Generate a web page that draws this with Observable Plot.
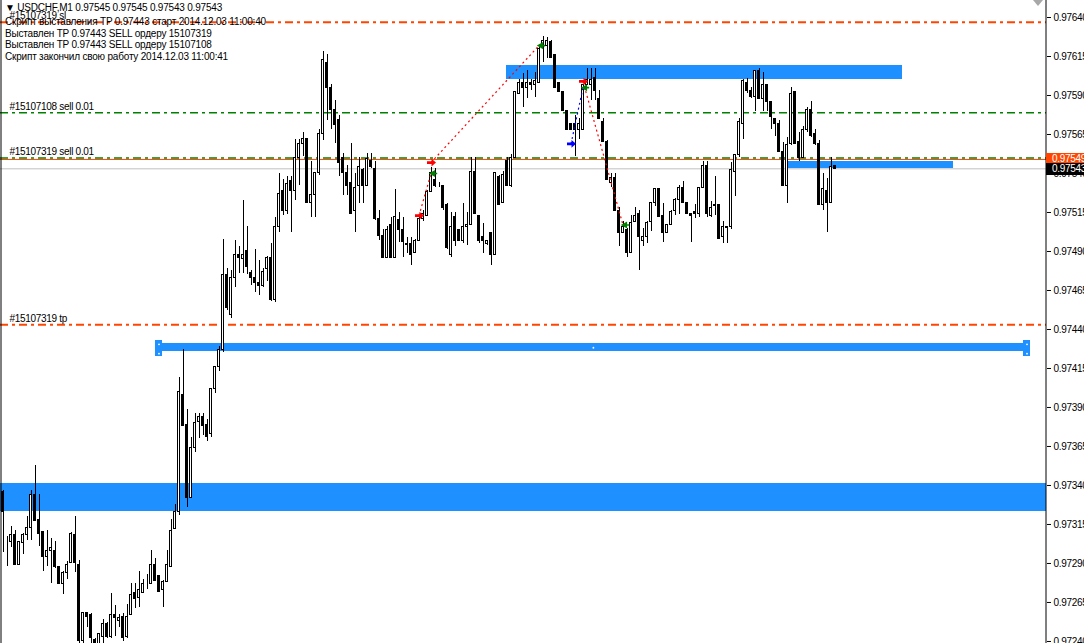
<!DOCTYPE html>
<html><head><meta charset="utf-8">
<script src="https://cdn.jsdelivr.net/npm/d3@7"></script>
<script src="https://cdn.jsdelivr.net/npm/@observablehq/plot@0.6"></script>
<style>
html,body{margin:0;padding:0;background:#fff;}
#wrap{position:relative;width:1084px;height:643px;overflow:hidden;font-family:"Liberation Sans",Arial,sans-serif;}
#wrap svg{display:block;}
.t{position:absolute;left:5px;font-size:10px;line-height:12px;letter-spacing:-0.2px;color:#000;white-space:nowrap;}
.pl{position:absolute;left:1046px;width:38px;height:12px;font-size:10px;line-height:12px;color:#fff;padding-left:6px;box-sizing:border-box;letter-spacing:-0.3px;}
.tri{position:absolute;left:1033px;top:0;width:0;height:0;border-left:5px solid transparent;border-right:5px solid transparent;border-top:6px solid #a8a8a8;}
</style></head>
<body><div id="wrap"></div>
<script>
// ---- candle data (price in points, /1e5) ----
const opens = [
97336,97304,97304,97308,97289,97303,97308,97313,97334,97318,
97310,97294,97298,97298,97288,97277,97284,97290,97308,97289,
97240,97258,97257,97241,97238,97243,97251,97243,97257,97253,
97256,97243,97257,97271,97268,97271,97278,97277,97289,97282,
97273,97278,97288,97312,97323,97398,97379,97332,97364,97381,
97384,97379,97373,97402,97416,97427,97475,97449,97473,97488,
97485,97490,97476,97473,97470,97468,97479,97486,97459,97506,
97529,97516,97535,97529,97550,97559,97562,97521,97526,97540,
97565,97611,97595,97581,97574,97550,97540,97534,97516,97532,
97542,97532,97548,97543,97511,97500,97486,97507,97486,97510,
97504,97495,97495,97489,97497,97511,97513,97528,97536,97532,
97532,97520,97488,97512,97504,97497,97506,97507,97541,97513,
97499,97495,97502,97488,97538,97521,97548,97532,97550,97591,
97598,97595,97598,97597,97598,97622,97622,97624,97616,97598,
97592,97580,97572,97572,97568,97568,97597,97597,97601,97588,
97573,97560,97534,97537,97516,97502,97504,97489,97509,97514,
97497,97499,97509,97521,97530,97513,97502,97507,97516,97523,
97531,97521,97514,97515,97514,97531,97545,97513,97520,97520,
97499,97506,97506,97541,97552,97572,97598,97593,97589,97606,
97588,97597,97586,97575,97572,97554,97532,97559,97592,97560,
97550,97568,97581,97565,97559,97520,97529,97521,97545];
const highs = [
97337,97307,97314,97311,97304,97309,97320,97337,97353,97334,
97310,97311,97306,97304,97288,97285,97291,97310,97320,97292,
97258,97258,97258,97242,97245,97254,97252,97271,97263,97257,
97258,97264,97277,97277,97285,97280,97283,97298,97293,97282,
97279,97298,97318,97328,97409,97427,97389,97371,97386,97386,
97386,97382,97402,97416,97429,97498,97479,97478,97497,97493,
97523,97506,97478,97491,97484,97479,97487,97495,97512,97540,
97536,97538,97538,97562,97562,97566,97562,97548,97540,97568,
97618,97616,97597,97587,97577,97553,97545,97559,97540,97550,
97543,97553,97553,97548,97516,97504,97506,97512,97530,97515,
97512,97499,97499,97498,97513,97516,97529,97544,97543,97534,
97532,97521,97515,97515,97504,97521,97515,97550,97550,97513,
97508,97497,97502,97540,97539,97541,97550,97552,97592,97600,
97604,97606,97600,97605,97622,97628,97627,97625,97616,97598,
97592,97580,97572,97577,97575,97597,97607,97607,97607,97593,
97575,97561,97540,97540,97518,97509,97505,97513,97518,97516,
97505,97509,97521,97530,97530,97521,97507,97516,97524,97532,
97535,97521,97514,97520,97531,97548,97548,97522,97538,97520,
97509,97506,97547,97552,97575,97600,97601,97595,97606,97607,
97605,97597,97586,97575,97574,97560,97563,97595,97592,97566,
97570,97582,97586,97568,97561,97540,97537,97550,97545];
const lows = [
97297,97288,97300,97289,97289,97296,97305,97305,97317,97301,
97285,97288,97277,97287,97277,97270,97280,97290,97284,97236,
97236,97249,97236,97236,97236,97237,97242,97242,97243,97249,
97240,97242,97257,97261,97262,97271,97273,97277,97279,97272,
97262,97278,97288,97312,97321,97378,97326,97332,97361,97370,
97372,97368,97371,97399,97413,97425,97452,97447,97467,97476,
97476,97475,97468,97464,97462,97467,97471,97458,97457,97502,
97513,97514,97502,97523,97532,97551,97521,97512,97512,97539,
97561,97574,97568,97559,97538,97526,97526,97514,97502,97521,
97521,97532,97543,97510,97497,97486,97486,97486,97486,97496,
97486,97489,97481,97489,97497,97509,97513,97528,97531,97531,
97516,97491,97486,97493,97497,97495,97494,97507,97514,97495,
97489,97494,97481,97488,97520,97521,97532,97531,97550,97591,
97582,97588,97593,97589,97598,97611,97614,97614,97595,97592,
97580,97568,97568,97551,97562,97568,97597,97587,97587,97575,
97560,97536,97531,97516,97493,97502,97486,97489,97509,97478,
97493,97495,97503,97519,97512,97496,97502,97507,97513,97514,
97521,97514,97496,97511,97512,97531,97512,97512,97513,97498,
97495,97495,97504,97525,97550,97562,97591,97588,97580,97588,
97580,97580,97568,97564,97554,97532,97521,97558,97559,97548,
97550,97566,97563,97558,97520,97516,97502,97521,97543];
const closes = [
97323,97304,97308,97289,97304,97308,97313,97334,97317,97309,
97294,97298,97300,97288,97277,97284,97289,97309,97290,97240,
97258,97256,97242,97238,97245,97251,97243,97257,97255,97255,
97242,97256,97270,97267,97273,97277,97278,97289,97279,97272,
97278,97289,97311,97323,97400,97378,97332,97364,97380,97384,
97378,97371,97402,97416,97427,97475,97454,97473,97488,97486,
97488,97480,97473,97470,97468,97477,97486,97459,97506,97527,
97516,97533,97529,97550,97559,97562,97521,97526,97540,97565,
97613,97595,97581,97571,97547,97540,97532,97514,97531,97544,
97532,97549,97544,97511,97500,97486,97504,97486,97512,97504,
97496,97494,97488,97497,97511,97514,97528,97540,97532,97532,
97518,97492,97506,97497,97497,97506,97507,97541,97514,97497,
97497,97497,97488,97540,97520,97539,97532,97550,97592,97598,
97595,97598,97597,97599,97620,97625,97625,97614,97595,97592,
97580,97568,97568,97568,97572,97597,97600,97600,97593,97575,
97560,97536,97537,97516,97502,97506,97489,97508,97513,97499,
97499,97508,97521,97530,97512,97502,97507,97515,97523,97531,
97521,97514,97513,97514,97531,97545,97514,97518,97519,97498,
97506,97505,97542,97552,97573,97599,97593,97589,97606,97588,
97597,97586,97576,97572,97554,97532,97558,97591,97559,97550,
97568,97581,97564,97559,97520,97530,97521,97544,97543];

// ---- axis ----
const yTicks = [0.97240,0.97265,0.97290,0.97315,0.97340,0.97365,0.97390,0.97415,0.97440,
                0.97465,0.97490,0.97515,0.97540,0.97565,0.97590,0.97615,0.97640];
const xDomain = [-0.625, 260.875];
const yDomain = [0.972387, 0.976509];

// ---- order / price levels ----
const levelPrices = [0.97637, 0.97579, 0.97550, 0.97443];
const levelColors = ["#ff4500", "#008000", "#008000", "#ff4500"];
const levelLabels = ["#15107319 sl", "#15107108 sell 0.01", "#15107319 sell 0.01", "#15107319 tp"];
const askPrice = 0.97549;
const bidPrice = 0.97543;

// ---- rectangle objects (bar index span, price span) ----
const zoneStart = [-0.625, 125.9, 196.1, 38.4];
const zoneEnd   = [260.875, 224.9, 237.6, 256.9];
const zoneLow   = [0.97323, 0.97600, 0.97543, 0.974256];
const zoneHigh  = [0.97341, 0.97609, 0.97548, 0.97431];
const handleBars = [38.1, 255.1];
const handleLow = 0.97423, handleHigh = 0.97433;
const handleDotBars = [39.0, 256.0];
const midDotBar = 147.6;

// ---- trades ----
const tradeOpenBar    = [104, 107, 142, 145];
const tradeOpenPrice  = [0.97513, 0.97547, 0.97559, 0.97599];
const tradeCloseBar   = [107, 134, 145, 155];
const tradeClosePrice = [0.97540, 0.97622, 0.97595, 0.97507];
const tradeType       = ["sell", "sell", "buy", "sell"];

// ---- texts ----
const header = "\u25BC USDCHF,M1  0.97545 0.97545 0.97543 0.97543";
const commentLines = [
  "Скрипт выставления TP 0.97443 старт 2014.12.03 11:00:40",
  "Выставлен TP 0.97443 SELL ордеру 15107319",
  "Выставлен TP 0.97443 SELL ордеру 15107108",
  "Скрипт закончил свою работу 2014.12.03 11:00:41"
];

const bars = opens.map((o, i) => ({i, o: o/1e5, h: highs[i]/1e5, l: lows[i]/1e5, c: closes[i]/1e5}));
const zones = zoneStart.map((s, k) => ({x1: s, x2: zoneEnd[k], y1: zoneLow[k], y2: zoneHigh[k]}));
const trades = tradeOpenBar.map((b, k) => ({b1: b, p1: tradeOpenPrice[k], b2: tradeCloseBar[k], p2: tradeClosePrice[k], t: tradeType[k]}));
const handleDots = handleDotBars.flatMap(b => [{b, p: 0.974305}, {b, p: 0.974245}]).concat([{b: midDotBar, p: 0.974283}]);
const BLUE = "#1e90ff";

// custom arrow symbols (MT4-like trade arrows)
const arrowRight = {draw(ctx, size) {
  const r = Math.sqrt(size / Math.PI);
  ctx.moveTo(-r, -0.3 * r); ctx.lineTo(0, -0.3 * r); ctx.lineTo(0, -0.85 * r);
  ctx.lineTo(r, 0); ctx.lineTo(0, 0.85 * r); ctx.lineTo(0, 0.3 * r); ctx.lineTo(-r, 0.3 * r); ctx.closePath();
}};
const arrowLeft = {draw(ctx, size) {
  const r = Math.sqrt(size / Math.PI);
  ctx.moveTo(-r, 0); ctx.lineTo(0.5 * r, -0.85 * r); ctx.lineTo(0.5 * r, 0.85 * r); ctx.closePath();
  ctx.moveTo(0.5 * r, -0.2 * r); ctx.lineTo(r, -0.2 * r); ctx.lineTo(r, 0.2 * r); ctx.lineTo(0.5 * r, 0.2 * r); ctx.closePath();
}};

const levelMarks = levelPrices.map((p, k) => Plot.ruleY([p], {
  y: d => d, stroke: levelColors[k], strokeWidth: k === 0 || k === 3 ? 2 : 1.5,
  strokeDasharray: "8,4,3,4"
}));

const chart = Plot.plot({
  width: 1084, height: 643,
  marginLeft: 0, marginRight: 38, marginTop: 0, marginBottom: 0,
  style: {fontFamily: "Liberation Sans, Arial, sans-serif", fontSize: "10px", background: "white", letterSpacing: "-0.3px"},
  x: {domain: xDomain, axis: null},
  y: {domain: yDomain, axis: null},
  marks: [
    Plot.rect(zones, {x1: "x1", x2: "x2", y1: "y1", y2: "y2", fill: BLUE, shapeRendering: "crispEdges"}),
    Plot.rect(handleBars, {x1: d => d, x2: d => d + 1.8, y1: handleLow, y2: handleHigh, fill: BLUE, shapeRendering: "crispEdges"}),
    Plot.dot(handleDots, {x: "b", y: "p", r: 0.9, fill: "white"}),
    ...levelMarks,
    Plot.ruleY([askPrice], {y: d => d, stroke: "#ff4500", strokeWidth: 1}),
    Plot.ruleY([bidPrice], {y: d => d, stroke: "#c0c0c0", strokeWidth: 1}),
    Plot.ruleX(bars, {x: "i", y1: "l", y2: "h", stroke: "black", strokeWidth: 1, shapeRendering: "crispEdges"}),
    Plot.rect(bars, {x1: d => d.i - 0.25, x2: d => d.i + 0.25, y1: "o", y2: "c",
      fill: d => d.c > d.o ? "white" : "black", stroke: "black", strokeWidth: 1, shapeRendering: "crispEdges"}),
    Plot.link(trades, {x1: "b1", y1: "p1", x2: "b2", y2: "p2",
      stroke: d => d.t === "buy" ? "#0000ff" : "#ff0000", strokeWidth: 1.2, strokeDasharray: "2,3"}),
    Plot.dot(trades.filter(d => d.t === "sell"), {x: "b1", y: "p1", r: 4.5, symbol: arrowRight, fill: "#ff0000", dx: 0.5}),
    Plot.dot(trades.filter(d => d.t === "buy"), {x: "b1", y: "p1", r: 4.5, symbol: arrowRight, fill: "#0000ff", dx: 0.5}),
    Plot.dot(trades, {x: "b2", y: "p2", r: 4.2, symbol: arrowLeft, fill: "#008000", dx: 2}),
    Plot.text(levelPrices, {y: d => d, text: (d, k) => levelLabels[k], frameAnchor: "left",
      dx: 9, dy: -6, textAnchor: "start", fill: "black", fontSize: 10}),
    Plot.ruleX([xDomain[0] + 0.125], {stroke: "black", strokeWidth: 1}),
    Plot.ruleX([xDomain[1] - 0.125], {stroke: "black", strokeWidth: 1}),
    Plot.axisY(yTicks, {anchor: "right", label: null, tickSize: 4, tickPadding: 3,
      tickFormat: d => d.toFixed(5), fontSize: 10, fill: "black", stroke: "black"})
  ]
});

const wrap = document.getElementById("wrap");
wrap.appendChild(chart);
const ys = chart.scale("y");

function addDiv(cls, text, top, extra) {
  const d = document.createElement("div");
  d.className = cls; d.textContent = text; d.style.top = top + "px";
  if (extra) Object.assign(d.style, extra);
  wrap.appendChild(d);
}
addDiv("t", header, 2);
commentLines.forEach((s, k) => addDiv("t", s, 16 + k * 11.7));
addDiv("pl", askPrice.toFixed(5), Math.round(ys.apply(askPrice)) - 6, {background: "#ff4500"});
addDiv("pl", bidPrice.toFixed(5), Math.round(ys.apply(bidPrice)) - 5, {background: "#000"});
const tri = document.createElement("div"); tri.className = "tri"; wrap.appendChild(tri);
</script></body></html>
